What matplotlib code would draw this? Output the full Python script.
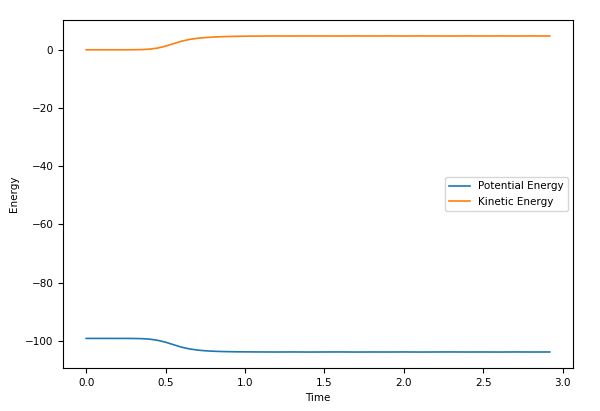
import matplotlib.pyplot as plt

plt.rcParams["font.size"] = 7.5

# time in reduced units
time = [0.0, 0.05, 0.1, 0.15, 0.2, 0.25, 0.3, 0.35, 0.4, 0.45, 0.5, 0.55,
        0.6, 0.65, 0.7, 0.75, 0.8, 0.85, 0.9, 0.95, 1.0, 1.1, 1.2, 1.3,
        1.4, 1.5, 1.6, 1.7, 1.8, 1.9, 2.0, 2.1, 2.2, 2.3, 2.4, 2.5, 2.6,
        2.7, 2.8, 2.92]

potential = [-99.2, -99.2, -99.2, -99.2, -99.2, -99.2, -99.22, -99.28, -99.45, -99.85,
             -100.5, -101.35, -102.2, -102.8, -103.2, -103.45, -103.6, -103.7, -103.75,
             -103.8, -103.82, -103.85, -103.87, -103.85, -103.88, -103.86, -103.85,
             -103.88, -103.86, -103.87, -103.85, -103.88, -103.86, -103.85, -103.87,
             -103.86, -103.88, -103.85, -103.87, -103.86]

kinetic = [0.0, 0.0, 0.0, 0.0, 0.0, 0.0, 0.02, 0.07, 0.22, 0.6,
           1.25, 2.1, 2.95, 3.55, 3.95, 4.2, 4.38, 4.5, 4.58,
           4.64, 4.68, 4.72, 4.75, 4.74, 4.76, 4.75, 4.74,
           4.76, 4.75, 4.76, 4.74, 4.76, 4.75, 4.74, 4.76,
           4.75, 4.76, 4.74, 4.76, 4.75]

fig = plt.figure(figsize=(6, 4.11), dpi=100)
ax = fig.add_axes([0.105, 0.105, 0.85, 0.846])

ax.plot(time, potential, lw=1.2, label="Potential Energy")
ax.plot(time, kinetic, lw=1.2, label="Kinetic Energy")
ax.set_xlabel("Time")
ax.set_ylabel("Energy")
ax.legend(loc="center right")

plt.savefig("out.png", dpi=100)
